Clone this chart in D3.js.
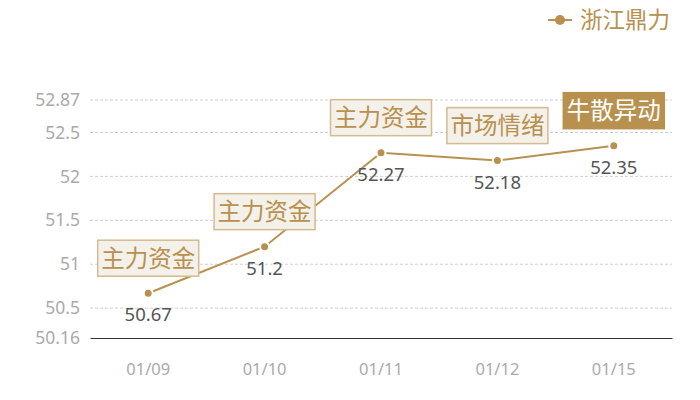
<!DOCTYPE html>
<html>
<head>
<meta charset="utf-8">
<script src="https://cdn.jsdelivr.net/npm/d3@7"></script>
<style>
  body { margin: 0; background: #fff; }
  svg { display: block; font-family: "Noto Sans", "Noto Sans CJK SC", sans-serif; }
</style>
</head>
<body>
<svg id="chart" width="700" height="400"></svg>
<script>
const dates = ["01/09", "01/10", "01/11", "01/12", "01/15"]
const prices = [50.67, 51.2, 52.27, 52.18, 52.35]
const tags = ["主力资金", "主力资金", "主力资金", "市场情绪", "牛散异动"]
const yTicks = [50.16, 50.5, 51, 51.5, 52, 52.5, 52.87]
const seriesName = "浙江鼎力"

const gold = "#b8914f"
const margin = {top: 100, right: 28, bottom: 62, left: 90}
const width = 700, height = 400

const svg = d3.select("#chart")

let x = d3.scaleBand()
    .domain(dates)
    .range([margin.left, width - margin.right])

let y = d3.scaleLinear()
    .domain([50.16, 52.87])
    .range([height - margin.bottom, margin.top])

// grid
svg.append("g")
    .selectAll("line")
    .data(yTicks.slice(1))
    .join("line")
    .attr("x1", margin.left)
    .attr("x2", width - margin.right)
    .attr("y1", d => y(d))
    .attr("y2", d => y(d))
    .attr("stroke", "#d0d0d0")
    .attr("stroke-dasharray", "3,2")

// y labels
svg.append("g")
    .selectAll("text")
    .data(yTicks)
    .join("text")
    .attr("x", margin.left - 10)
    .attr("y", d => y(d))
    .attr("dy", "0.35em")
    .attr("text-anchor", "end")
    .attr("fill", "#aaaaaa")
    .style("font-size", "17.5px")
    .text(d => d)

// x axis
let xAxis = svg.append("g")
    .attr("transform", `translate(0,${height - margin.bottom})`)
    .call(d3.axisBottom(x).tickSize(0).tickPadding(25))
xAxis.select(".domain").attr("stroke", "#333")
xAxis.selectAll("text")
    .attr("fill", "#aaaaaa")
    .style("font-size", "16.5px")
    .style("font-family", "Noto Sans, sans-serif")

let cx = d => x(d) + x.bandwidth() / 2

// line
let line = d3.line()
    .x((d, i) => cx(dates[i]))
    .y(d => y(d))

svg.append("path")
    .datum(prices)
    .attr("d", line)
    .attr("fill", "none")
    .attr("stroke", gold)
    .attr("stroke-width", 2)

svg.append("g")
    .selectAll("circle")
    .data(prices)
    .join("circle")
    .attr("cx", (d, i) => cx(dates[i]))
    .attr("cy", d => y(d))
    .attr("r", 4.5)
    .attr("fill", gold)
    .attr("stroke", "#fff")
    .attr("stroke-width", 2)

// value labels
svg.append("g")
    .selectAll("text")
    .data(prices)
    .join("text")
    .attr("x", (d, i) => cx(dates[i]))
    .attr("y", d => y(d) + 28)
    .attr("text-anchor", "middle")
    .attr("fill", "#555")
    .style("font-size", "18.5px")
    .text(d => d)

// tag boxes
let boxW = 101, boxH = 36
let tagG = svg.append("g")
    .selectAll("g")
    .data(prices)
    .join("g")
    .attr("transform", (d, i) => `translate(${cx(dates[i]) - boxW / 2},${y(d) - 17 - boxH})`)

tagG.append("rect")
    .attr("width", boxW)
    .attr("height", boxH)
    .attr("fill", (d, i) => i == 4 ? gold : "#f4f0ea")
    .attr("stroke", (d, i) => i == 4 ? gold : "#d4bb90")
    .attr("stroke-width", 1.5)

tagG.append("text")
    .attr("x", boxW / 2)
    .attr("y", boxH / 2)
    .attr("dy", "0.36em")
    .attr("text-anchor", "middle")
    .attr("fill", (d, i) => i == 4 ? "#fff" : gold)
    .style("font-family", "Noto Sans CJK SC")
    .style("font-size", "23.5px")
    .text((d, i) => tags[i])

// legend
let legend = svg.append("g").attr("transform", "translate(548,20)")
legend.append("line")
    .attr("x1", 0).attr("x2", 24)
    .attr("stroke", gold).attr("stroke-width", 2)
legend.append("circle")
    .attr("cx", 12).attr("r", 5)
    .attr("fill", gold)
legend.append("text")
    .attr("x", 32)
    .attr("dy", "0.36em")
    .attr("fill", gold)
    .style("font-family", "Noto Sans CJK SC")
    .style("font-size", "22.5px")
    .text(seriesName)
</script>
</body>
</html>
